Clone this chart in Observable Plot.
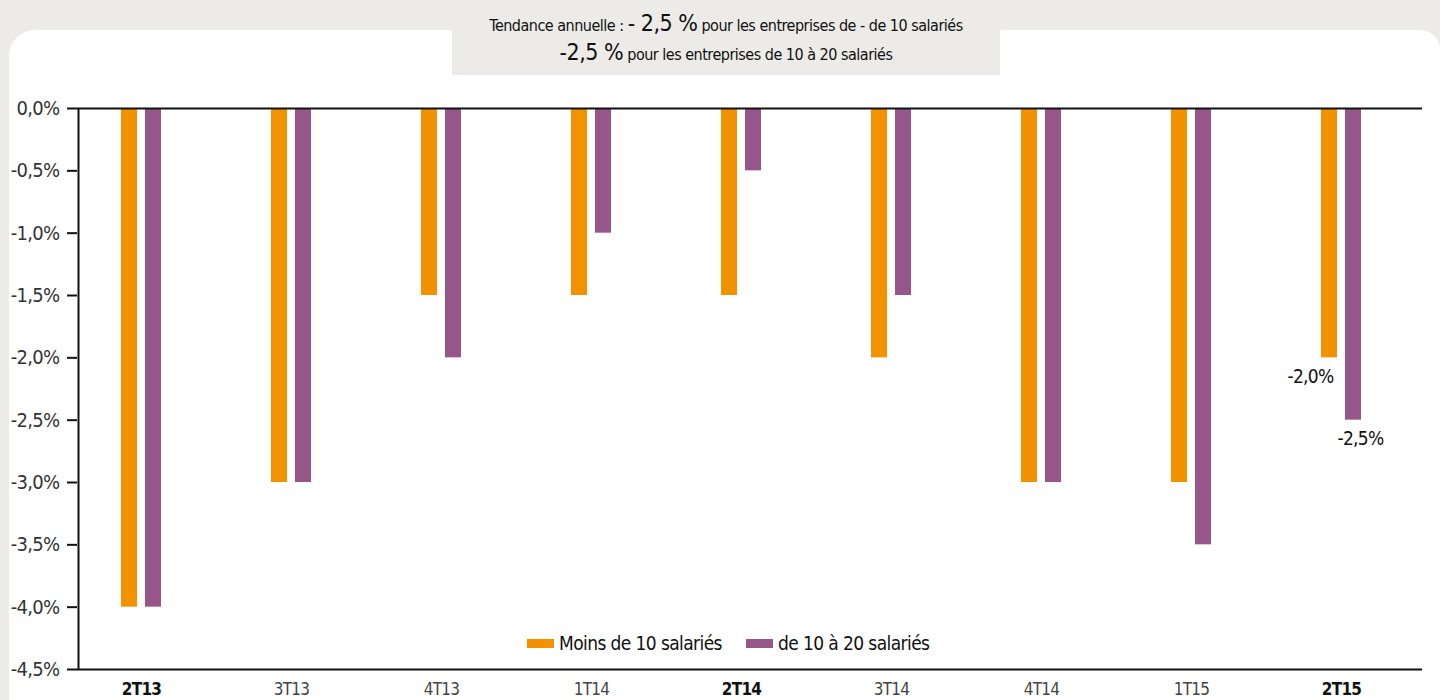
<!DOCTYPE html>
<html><head><meta charset="utf-8">
<script src="https://cdn.jsdelivr.net/npm/d3@7"></script>
<script src="https://cdn.jsdelivr.net/npm/@observablehq/plot@0.6"></script>
<style>
html,body{margin:0;padding:0;width:1440px;height:700px;overflow:hidden;background:#ecebe7;font-family:"Liberation Sans Narrow","DejaVu Sans Condensed","Roboto",sans-serif;}
#panel{position:absolute;left:9px;top:30px;width:1431px;height:700px;background:#fff;border-top-left-radius:26px;border-top-right-radius:20px;}
#title{position:absolute;left:452px;top:0;width:548px;height:75px;background:#ecebe7;text-align:center;color:#111;font-size:16px;line-height:27px;padding-top:10px;box-sizing:border-box;letter-spacing:-0.5px;}
#title b{font-weight:normal;font-size:23px;}
#chart{position:absolute;left:0;top:0;}
#legend{position:absolute;top:632px;left:527px;font-size:19px;color:#111;display:flex;align-items:center;letter-spacing:-0.6px;}
#legend span.sw{display:inline-block;width:27px;height:9px;margin-right:5px;}
#legend span.it{display:flex;align-items:center;margin-right:24px;}
</style></head>
<body>
<div id="panel"></div>
<div id="chart"></div>
<div id="title">Tendance annuelle : <b>- 2,5 %</b> pour les entreprises de - de 10 salariés<br><b>-2,5 %</b> pour les entreprises de 10 à 20 salariés</div>
<div id="legend"></div>
<script>
const quarters = ["2T13","3T13","4T13","1T14","2T14","3T14","4T14","1T15","2T15"];
const boldQuarters = ["2T13","2T14","2T15"];
const seriesNames = ["Moins de 10 salariés","de 10 à 20 salariés"];
const seriesColors = ["#f39200","#96568a"];
const moins10 = [-4.0,-3.0,-1.5,-1.5,-1.5,-2.0,-3.0,-3.0,-2.0];
const de10a20 = [-4.0,-3.0,-2.0,-1.0,-0.5,-1.5,-3.0,-3.5,-2.5];
const yTicks = [0,-0.5,-1,-1.5,-2,-2.5,-3,-3.5,-4,-4.5];

const fmt = d => d.toFixed(1).replace(".", ",").replace("-0,0","0,0") + "%";
const d1 = quarters.map((q,i)=>({q, v: moins10[i]}));
const d2 = quarters.map((q,i)=>({q, v: de10a20[i]}));
const last = quarters.length-1;
const font = '"Liberation Sans Narrow","DejaVu Sans Condensed",sans-serif';

const chart = Plot.plot({
  width: 1440, height: 700,
  marginTop: 108, marginBottom: 31, marginLeft: 77, marginRight: 18,
  style: {fontFamily: font, background: "transparent", overflow: "visible", letterSpacing: "-0.7px"},
  x: {domain: quarters, range: [65, 1416], padding: 0, axis: null},
  y: {domain: [-4.5, 0], ticks: yTicks, tickFormat: fmt, label: null},
  marks: [
    Plot.axisY({ticks: yTicks, tickFormat: fmt, tickSize: 10, tickPadding: 8, fontSize: 20, fill: "#333", stroke: "#111", strokeWidth: 2, label: null, fontWeight: 300}),
    Plot.barY(d1, {x: "q", y: "v", fill: seriesColors[0], insetLeft: 55, insetRight: 79}),
    Plot.barY(d2, {x: "q", y: "v", fill: seriesColors[1], insetLeft: 79, insetRight: 55}),
    Plot.ruleY([0, -4.5], {stroke: "#111", strokeWidth: 2}),
    Plot.ruleX([quarters[0]], {y1: 0, y2: -4.5, dx: -63, stroke: "#111", strokeWidth: 2}),
    Plot.text([d1[last]], {x: "q", y: "v", text: d => fmt(d.v), dx: -31, dy: 19, fontSize: 19, fill: "#111"}),
    Plot.text([d2[last]], {x: "q", y: "v", text: d => fmt(d.v), dx: 19, dy: 19, fontSize: 19, fill: "#111"}),
    Plot.text(quarters.filter(q => !boldQuarters.includes(q)), {x: d => d, frameAnchor: "bottom", dy: 25, fontSize: 17, fill: "#444", fontWeight: 300}),
    Plot.text(boldQuarters, {x: d => d, frameAnchor: "bottom", dy: 25, fontSize: 17, fill: "#111", fontWeight: "bold"})
  ]
});
document.getElementById("chart").appendChild(chart);

const lg = document.getElementById("legend");
seriesNames.forEach((n,i)=>{
  const it = document.createElement("span"); it.className="it";
  const sw = document.createElement("span"); sw.className="sw"; sw.style.background = seriesColors[i];
  it.appendChild(sw); it.appendChild(document.createTextNode(n));
  lg.appendChild(it);
});
</script>
</body></html>
